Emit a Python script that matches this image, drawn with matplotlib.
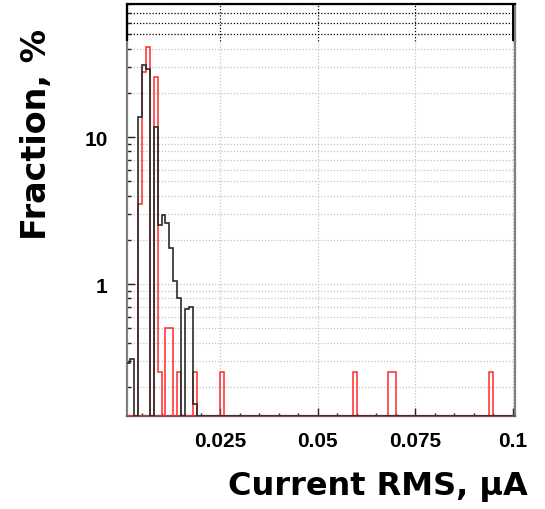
import numpy as np
import matplotlib
matplotlib.use('Agg')
import matplotlib.pyplot as plt
from matplotlib.ticker import FixedLocator, FixedFormatter, NullFormatter

# histogram binning: 100 bins of 0.001 uA from 0 to 0.1
bin_edges = np.linspace(0.0, 0.1, 101)

# black histogram: bin index -> fraction, %
black_bins = [1, 2, 4, 5, 6, 8, 9, 10, 11, 12, 13, 14, 16, 17, 18]
black_vals = [0.29, 0.31, 13.8, 31.1, 29.3, 11.7, 2.54, 2.95, 2.59, 1.75,
              1.06, 0.81, 0.68, 0.70, 0.154]

# red histogram
red_bins = [4, 5, 6, 8, 9, 11, 12, 14, 18, 25, 59, 68, 69, 94]
red_vals = [3.54, 27.8, 40.9, 25.6, 0.253, 0.504, 0.504, 0.253, 0.253,
            0.253, 0.253, 0.253, 0.253, 0.253]

x_ticks = [0.025, 0.05, 0.075, 0.1]
x_labels = ['0.025', '0.05', '0.075', '0.1']
y_ticks = [1, 10]
y_labels = ['1', '10']

XMIN, XMAX = 0.00115, 0.1006
YMIN, YMAX = 0.127, 80.5
SPLIT = 45.0   # upper band of the picture has a black frame / black grid


def full_hist(bins, vals):
    h = np.zeros(len(bin_edges) - 1)
    h[bins] = vals
    # empty bins are drawn on the bottom of the frame, like ROOT does
    return np.where(h > 0, h, YMIN)


fig = plt.figure(figsize=(5.45, 5.10), dpi=100)
ax = fig.add_axes([127 / 545, 1 - 417 / 510, 388 / 545, 412 / 510])
ax.set_yscale('log')
ax.set_xlim(XMIN, XMAX)
ax.set_ylim(YMIN, YMAX)

# grid
minor_vals = [m * 10.0 ** e for e in (-1, 0, 1) for m in range(1, 10)]
minor_vals = [v for v in minor_vals if YMIN < v < YMAX]
for v in minor_vals:
    col = 'black' if v > SPLIT else '#c4c4c4'
    ax.axhline(v, color=col, lw=0.9, ls=(0, (1, 1.5)), zorder=1)
ax.vlines(x_ticks, YMIN, SPLIT, color='#c4c4c4', lw=0.9, ls=(0, (1, 1.5)), zorder=1)
ax.vlines(x_ticks, SPLIT, YMAX, color='black', lw=0.9, ls=(0, (1, 1.5)), zorder=1)

# histograms
ax.stairs(full_hist(red_bins, red_vals), bin_edges, baseline=YMIN,
          color='#ff2a2a', lw=1.1, zorder=3)
ax.stairs(full_hist(black_bins, black_vals), bin_edges, baseline=YMIN,
          color='#2a2a2a', lw=1.2, zorder=4)

# frame
for side in ('left', 'right', 'bottom'):
    ax.spines[side].set_color('#808080')
    ax.spines[side].set_linewidth(1.6)
ax.spines['bottom'].set_color('#8a4a4a')
ax.spines['top'].set_color('black')
ax.spines['top'].set_linewidth(1.6)
ax.vlines([XMIN], SPLIT, YMAX, color='black', lw=1.6, zorder=5, clip_on=False)
ax.vlines([0.1], SPLIT, YMAX, color='black', lw=1.4, zorder=5)

# ticks
ax.xaxis.set_major_locator(FixedLocator(x_ticks))
ax.xaxis.set_major_formatter(FixedFormatter(x_labels))
ax.xaxis.set_minor_locator(FixedLocator(np.arange(0.005, 0.1001, 0.005)))
ax.yaxis.set_major_locator(FixedLocator(y_ticks))
ax.yaxis.set_major_formatter(FixedFormatter(y_labels))
ax.yaxis.set_minor_locator(FixedLocator(minor_vals))
ax.yaxis.set_minor_formatter(NullFormatter())

ax.tick_params(axis='both', which='both', direction='in', colors='#222222',
               top=False, right=False)
ax.tick_params(axis='x', which='major', length=5.5, width=1.0, pad=11)
ax.tick_params(axis='x', which='minor', length=2.5, width=1.0)
ax.tick_params(axis='y', which='major', length=6, width=1.0, pad=14)
ax.tick_params(axis='y', which='minor', length=3, width=1.0)
for lab in ax.get_xticklabels() + ax.get_yticklabels():
    lab.set_fontfamily('Liberation Sans')
    lab.set_fontweight('bold')
    lab.set_fontsize(15)
    lab.set_color('black')

fig.text(37 / 545, 1 - 135 / 510, 'Fraction, %', rotation=90,
         ha='center', va='center', fontsize=24, fontweight='bold',
         family='DejaVu Sans')
fig.text(528 / 545, 1 - 495 / 510, 'Current RMS, \u00b5A', ha='right',
         va='baseline', fontsize=23, fontweight='bold', family='DejaVu Sans')

fig.savefig('out.png', dpi=100)
